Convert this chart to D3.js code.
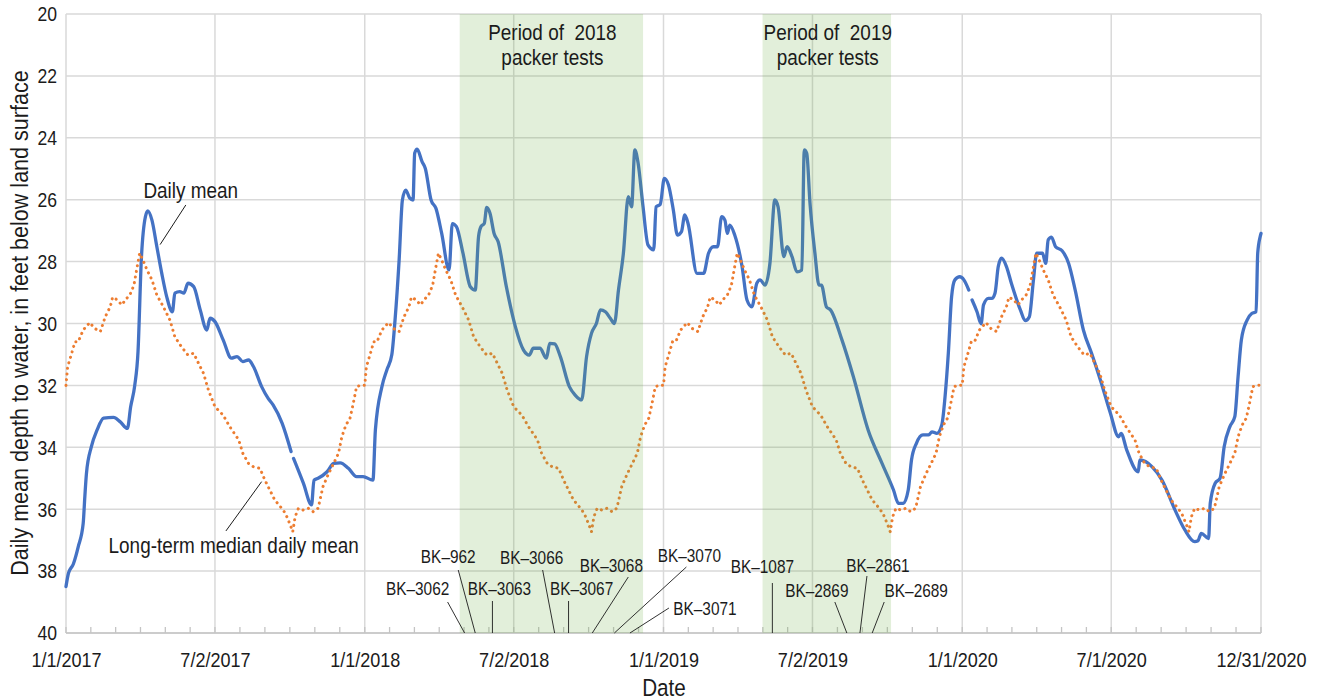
<!DOCTYPE html>
<html>
<head>
<meta charset="utf-8">
<title>Daily mean depth to water, 2017–2020</title>
<script src="https://cdn.jsdelivr.net/npm/d3@7"></script>
<style>
  html, body { margin: 0; padding: 0; background: #fff; }
  svg { display: block; font-family: "Liberation Sans Narrow", "Arial Narrow", "Liberation Sans", sans-serif; }
  text { fill: #1b1b1b; }
</style>
</head>
<body>
<svg id="chart" width="1320" height="700"></svg>
<script>
// ---------------------------------------------------------------------------
// Data
// ---------------------------------------------------------------------------
const seriesStart = "2017-01-01";

// Daily mean depth to water (feet below land surface), keyed by days since 1/1/2017.
// A null value marks a break in the record.
const dailyDay = [
  0, 3, 9, 15, 21, 23, 25, 31, 38, 46,
  58, 66, 75, 79, 84, 88, 92, 97, 100, 105,
  111, 117, 123, 130, 133, 139, 144, 149, 156, 164,
  172, 176, 182, 192, 202, 209, 216, 223, 229, 239,
  247, 253, 264, 275, 276, 278, 290, 300, 303, 308,
  319, 327, 335, 345, 355, 363, 375, 378, 386, 392,
  398, 402, 407, 411, 415, 420, 424, 426, 429, 435,
  439, 446, 452, 459, 468, 472, 477, 485, 494, 500,
  504, 507, 511, 514, 518, 523, 528, 538, 549, 559,
  566, 571, 579, 587, 591, 597, 604, 615, 622, 630,
  636, 642, 648, 653, 659, 665, 670, 675, 681, 687,
  691, 695, 699, 705, 711, 718, 721, 726, 731, 736,
  742, 747, 752, 756, 760, 771, 779, 785, 791, 796,
  801, 805, 808, 811, 817, 826, 832, 838, 844, 848,
  854, 860, 866, 870, 877, 881, 887, 893, 899, 902,
  905, 909, 915, 920, 923, 929, 934, 948, 962, 980,
  997, 1011, 1017, 1023, 1029, 1033, 1039, 1047, 1054, 1058,
  1064, 1070, 1074, 1078, 1082, 1086, 1092, 1097, 1103, 1105,
  1107, 1113, 1118, 1121, 1127, 1131, 1135, 1139, 1143, 1149,
  1155, 1166, 1172, 1177, 1182, 1186, 1193, 1197, 1200, 1204,
  1209, 1217, 1225, 1233, 1243, 1253, 1265, 1276, 1286, 1289,
  1296, 1310, 1312, 1327, 1339, 1355, 1367, 1379, 1383, 1387,
  1396, 1398, 1404, 1410, 1415, 1422, 1428, 1432, 1436, 1443,
  1449, 1454, 1456, 1459, 1460
];
const dailyDepth = [
  38.5, 38.07, 37.77, 37.21, 36.46, 35.6, 34.84, 33.98, 33.44, 33.06,
  33.03, 33.17, 33.39, 32.69, 32.0, 30.9, 27.95, 26.55, 26.36, 26.66,
  27.52, 28.38, 29.13, 29.62, 29.02, 28.97, 29.02, 28.70, 28.81, 29.56,
  30.21, 29.83, 29.94, 30.53, 31.12, 31.07, 31.23, 31.18, 31.39, 32.04,
  32.42, 32.63, 33.22, 34.14, null, 34.36, 35.16, 35.86, 35.06, 35.0,
  34.79, 34.52, 34.50, 34.68, 34.95, 34.95, 35.06, 33.44, 32.04, 31.50,
  31.02, 29.89, 27.95, 26.01, 25.69, 25.95, 26.01, 24.50, 24.37, 24.77,
  24.99, 26.01, 26.28, 27.09, 28.27, 26.77, 26.87, 27.73, 28.81, 28.92,
  27.20, 26.87, 26.77, 26.25, 26.44, 27.09, 27.36, 28.81, 30.10, 30.86,
  31.02, 30.80, 30.80, 31.12, 30.64, 30.66, 31.07, 32.04, 32.31, 32.47,
  31.07, 30.32, 30.0, 29.56, 29.62, 29.83, 30.0, 28.92, 27.73, 25.90,
  26.23, 24.39, 24.82, 26.23, 27.46, 27.62, 26.23, 26.15, 25.31, 25.52,
  26.33, 27.14, 27.03, 26.49, 26.77, 28.38, 28.38, 27.73, 27.52, 27.52,
  26.55, 26.66, 27.09, 26.82, 27.14, 28.16, 29.24, 29.46, 28.70, 28.59,
  28.76, 28.06, 26.01, 26.23, 27.84, 27.52, 27.84, 28.33, 28.27, 24.39,
  24.50, 26.12, 27.73, 28.76, 28.76, 29.46, 29.56, 30.53, 31.72, 33.44,
  34.52, 35.38, 35.81, 35.81, 35.38, 34.41, 33.87, 33.60, 33.60, 33.50,
  33.55, 33.28, 32.36, 30.96, 29.13, 28.59, 28.49, 28.59, 28.92, null,
  29.24, 29.62, 30.01, 29.40, 29.19, 29.19, 29.02, 28.16, 27.89, 28.16,
  28.70, 29.56, 29.91, 29.78, 28.59, 27.73, 27.73, 28.06, 27.30, 27.21,
  27.52, 27.65, 28.06, 28.92, 30.21, 30.96, 31.93, 32.90, 33.66, 33.55,
  34.09, 34.79, 34.41, 34.63, 35.06, 36.03, 36.67, 37.05, 37.02, 36.78,
  36.95, 35.81, 35.16, 35.0, 33.98, 33.33, 33.01, 31.72, 30.53, 29.89,
  29.67, 29.62, 27.73, 27.19, 27.09
];

// Long-term median daily mean depth to water (feet), by day of year.
const medianDoy = [
  0, 2, 7, 11, 15, 21, 29, 35, 42, 48,
  54, 57, 63, 68, 74, 78, 83, 87, 90, 94,
  99, 105, 111, 119, 127, 133, 141, 149, 156, 162,
  168, 174, 182, 192, 200, 211, 216, 223, 229, 237,
  243, 249, 255, 262, 268, 274, 277, 280, 284, 290,
  296, 302, 308, 314, 321, 327, 333, 337, 342, 347,
  351, 355, 361, 365
];
const medianDepth = [
  32.0, 31.40, 30.96, 30.59, 30.59, 30.21, 29.97, 30.16, 30.26, 29.78,
  29.46, 29.15, 29.24, 29.40, 29.19, 29.08, 28.76, 28.16, 27.73, 27.95,
  28.27, 28.59, 29.08, 29.46, 29.89, 30.43, 30.75, 31.02, 30.96, 31.29,
  31.61, 32.15, 32.69, 32.96, 33.33, 33.76, 34.19, 34.52, 34.63, 34.68,
  35.06, 35.38, 35.70, 35.92, 36.13, 36.51, 36.73, 36.24, 35.97, 36.03,
  35.97, 36.08, 35.97, 35.27, 34.84, 34.52, 34.19, 33.66, 33.28, 33.06,
  32.58, 32.04, 31.99, 32.0
];
const medianYears = [2017, 2018, 2019, 2020];

// Axis ticks
const xTickLabels = ["1/1/2017", "7/2/2017", "1/1/2018", "7/2/2018", "1/1/2019",
                     "7/2/2019", "1/1/2020", "7/1/2020", "12/31/2020"];
const yTicks = [20, 22, 24, 26, 28, 30, 32, 34, 36, 38, 40];

// Packer-test periods
const periodLabels = [["Period of  2018", "packer tests"], ["Period of  2019", "packer tests"]];
const periodStart = ["2018-04-27", "2019-05-02"];
const periodEnd = ["2018-12-07", "2019-10-06"];

// Wells tested and the date of each test
const wellNames = ["BK\u20133062", "BK\u2013962", "BK\u20133063", "BK\u20133066", "BK\u20133067", "BK\u20133068",
                   "BK\u20133070", "BK\u20133071", "BK\u20131087", "BK\u20132869", "BK\u20132861", "BK\u20132689"];
const wellTestDates = ["2018-05-03", "2018-05-16", "2018-06-06", "2018-08-21", "2018-09-07", "2018-10-06",
                       "2018-11-02", "2018-11-21", "2019-05-14", "2019-08-13", "2019-08-29", "2019-09-13"];

// ---------------------------------------------------------------------------
// Layout
// ---------------------------------------------------------------------------
const plot = { left: 66, right: 1261, top: 14, bottom: 633 };
const NARROW = 0.88;   // horizontal squeeze giving a condensed face

// Well label placement: label centre offset from the test date, label baseline,
// and the upper end of the leader line (offset from the test date, y).
const wellLabelDx   = [-47, -27, 7, -23, 13, 19, 75, 75, -10, -30, 18, 44];
const wellLabelY    = [595, 563, 595, 564, 595, 572, 562, 615, 573, 597, 572, 597];
const wellLeaderDx  = [-17, -17, 0, -12, 0, 36, 72, 39, 0, -12, 7, 12];
const wellLeaderTop = [602, 570, 601, 570, 601, 577, 567, 608, 583, 602, 576, 602];

// squeeze text horizontally about its own anchor x
function narrow(sel, k = NARROW) {
  sel.each(function() {
    const t = d3.select(this);
    const ax = +t.attr("x") || 0;
    const prev = t.attr("transform") || "";
    t.attr("transform", `${prev} translate(${ax},0) scale(${k},1) translate(${-ax},0)`);
  });
}

// ---------------------------------------------------------------------------
// Scales
// ---------------------------------------------------------------------------
const parseISO = d3.timeParse("%Y-%m-%d");
const parseTick = d3.timeParse("%m/%d/%Y");
const t0 = parseISO(seriesStart);
const xTickDates = xTickLabels.map(parseTick);

const x = d3.scaleTime()
  .domain([xTickDates[0], xTickDates[xTickDates.length - 1]])
  .range([plot.left, plot.right]);
const y = d3.scaleLinear()
  .domain([20, 40])
  .range([plot.top, plot.bottom]);

const daily = dailyDay.map((d, i) => ({ date: d3.timeDay.offset(t0, d), v: dailyDepth[i] }));

const median = [];
const endDate = x.domain()[1];
medianYears.forEach((yr, k) => {
  const jan1 = new Date(yr, 0, 1);
  medianDoy.forEach((d, i) => {
    if (d === 365 && k < medianYears.length - 1) return;
    const date = d3.timeDay.offset(jan1, d);
    if (date <= endDate) median.push({ date, v: medianDepth[i] });
  });
});

// ---------------------------------------------------------------------------
// Drawing
// ---------------------------------------------------------------------------
const svg = d3.select("#chart");
const grid = svg.append("g").attr("class", "grid");

// horizontal gridlines
grid.selectAll("line.h").data(yTicks).join("line")
  .attr("class", "h")
  .attr("x1", plot.left).attr("x2", plot.right)
  .attr("y1", d => y(d)).attr("y2", d => y(d))
  .attr("stroke", "#d9d9d9").attr("stroke-width", 1.5);

// vertical gridlines at the major dates
grid.selectAll("line.v").data(xTickDates).join("line")
  .attr("class", "v")
  .attr("x1", d => x(d)).attr("x2", d => x(d))
  .attr("y1", plot.top).attr("y2", plot.bottom)
  .attr("stroke", "#d9d9d9").attr("stroke-width", 1.5);

// x axis line and inward minor ticks (six per major interval)
const minorX = [];
for (let i = 0; i < xTickDates.length - 1; i++) {
  const a = x(xTickDates[i]), b = x(xTickDates[i + 1]);
  for (let k = 0; k < 6; k++) minorX.push(a + (b - a) * k / 6);
}
minorX.push(x(xTickDates[xTickDates.length - 1]));
grid.selectAll("line.minor").data(minorX).join("line")
  .attr("class", "minor")
  .attr("x1", d => d).attr("x2", d => d)
  .attr("y1", plot.bottom).attr("y2", plot.bottom - 6)
  .attr("stroke", "#c4c4c4").attr("stroke-width", 1.3);
grid.append("line")
  .attr("x1", plot.left).attr("x2", plot.right)
  .attr("y1", plot.bottom).attr("y2", plot.bottom)
  .attr("stroke", "#c4c4c4").attr("stroke-width", 1.6);

// series
const dailyLine = d3.line()
  .defined(d => d.v != null)
  .x(d => x(d.date)).y(d => y(d.v))
  .curve(d3.curveMonotoneX);
svg.append("path").datum(daily)
  .attr("d", dailyLine)
  .attr("fill", "none")
  .attr("stroke", "#4472c4")
  .attr("stroke-width", 3.3)
  .attr("stroke-linejoin", "round")
  .attr("stroke-linecap", "round");

const medianLine = d3.line()
  .x(d => x(d.date)).y(d => y(d.v))
  .curve(d3.curveLinear);
svg.append("path").datum(median)
  .attr("d", medianLine)
  .attr("fill", "none")
  .attr("stroke", "#ed7d31")
  .attr("stroke-width", 3)
  .attr("stroke-linecap", "round")
  .attr("stroke-dasharray", "0.1 5.6");

// packer-test shading (translucent, over the series)
const periods = periodStart.map((s, i) => ({ s: parseISO(s), e: parseISO(periodEnd[i]), label: periodLabels[i] }));
svg.append("g").selectAll("rect").data(periods).join("rect")
  .attr("x", d => x(d.s)).attr("width", d => x(d.e) - x(d.s))
  .attr("y", plot.top).attr("height", plot.bottom - plot.top)
  .attr("fill", "rgb(112,173,71)").attr("fill-opacity", 0.2);

const periodText = svg.append("g").selectAll("text").data(periods).join("text")
  .attr("x", d => (x(d.s) + x(d.e)) / 2 + 1)
  .attr("text-anchor", "middle")
  .style("white-space", "pre")
  .attr("font-size", 21.5);
periodText.each(function(d) {
  const cx = (x(d.s) + x(d.e)) / 2 + 1;
  d3.select(this).selectAll("tspan").data(d.label).join("tspan")
    .attr("x", cx).attr("y", (t, j) => 40 + j * 25)
    .text(t => t);
});
narrow(periodText);

// axes
const yAxis = svg.append("g")
  .attr("transform", `translate(${plot.left},0)`)
  .call(d3.axisLeft(y).tickValues(yTicks).tickSize(0).tickPadding(9).tickFormat(d3.format("d")));
yAxis.select(".domain").remove();
yAxis.selectAll("text").attr("font-size", 20).attr("font-family", null).attr("fill", "#1b1b1b").attr("dy", "0.34em");
narrow(yAxis.selectAll("text"));

const xAxis = svg.append("g")
  .attr("transform", `translate(0,${plot.bottom})`)
  .call(d3.axisBottom(x).tickValues(xTickDates).tickSize(0).tickFormat((d, i) => xTickLabels[i]));
xAxis.select(".domain").remove();
xAxis.selectAll("text").attr("font-size", 20.5).attr("font-family", null).attr("fill", "#1b1b1b")
  .attr("y", 34).attr("dy", 0);
narrow(xAxis.selectAll("text"));

// axis titles
svg.append("text")
  .attr("transform", `translate(28,323) rotate(-90) scale(${NARROW},1)`)
  .attr("text-anchor", "middle")
  .attr("font-size", 24.5)
  .text("Daily mean depth to water, in feet below land surface");
svg.append("text")
  .attr("x", 664).attr("y", 696)
  .attr("text-anchor", "middle")
  .attr("font-size", 23.5)
  .text("Date")
  .call(narrow);

// series callouts, anchored on the series
const callouts = [
  { text: "Daily mean", date: d3.timeDay.offset(t0, 115), v: 27.45, lx: 25.7, ly: -39.6, tx: 30.6, ty: -46.3 },
  { text: "Long-term median daily mean", date: d3.timeDay.offset(t0, 239), v: 35.11, lx: -35.7, ly: 49.3, tx: -27.9, ty: 71.3 }
];
const co = svg.append("g").selectAll("g").data(callouts).join("g");
co.append("line")
  .attr("x1", d => x(d.date)).attr("y1", d => y(d.v))
  .attr("x2", d => x(d.date) + d.lx).attr("y2", d => y(d.v) + d.ly)
  .attr("stroke", "#1b1b1b").attr("stroke-width", 1);
co.append("text")
  .attr("x", d => x(d.date) + d.tx).attr("y", d => y(d.v) + d.ty)
  .attr("text-anchor", "middle").attr("font-size", 21.5)
  .text(d => d.text)
  .call(narrow);

// well labels with leaders down to the test date
const wells = wellNames.map((n, i) => ({ name: n, date: parseISO(wellTestDates[i]), i }));
const wg = svg.append("g").selectAll("g").data(wells).join("g");
wg.append("line")
  .attr("x1", d => x(d.date)).attr("y1", plot.bottom)
  .attr("x2", d => x(d.date) + wellLeaderDx[d.i]).attr("y2", d => wellLeaderTop[d.i])
  .attr("stroke", "#1b1b1b").attr("stroke-width", 0.9);
wg.append("text")
  .attr("x", d => x(d.date) + wellLabelDx[d.i]).attr("y", d => wellLabelY[d.i])
  .attr("text-anchor", "middle").attr("font-size", 17.5)
  .text(d => d.name)
  .call(narrow);
</script>
</body>
</html>
